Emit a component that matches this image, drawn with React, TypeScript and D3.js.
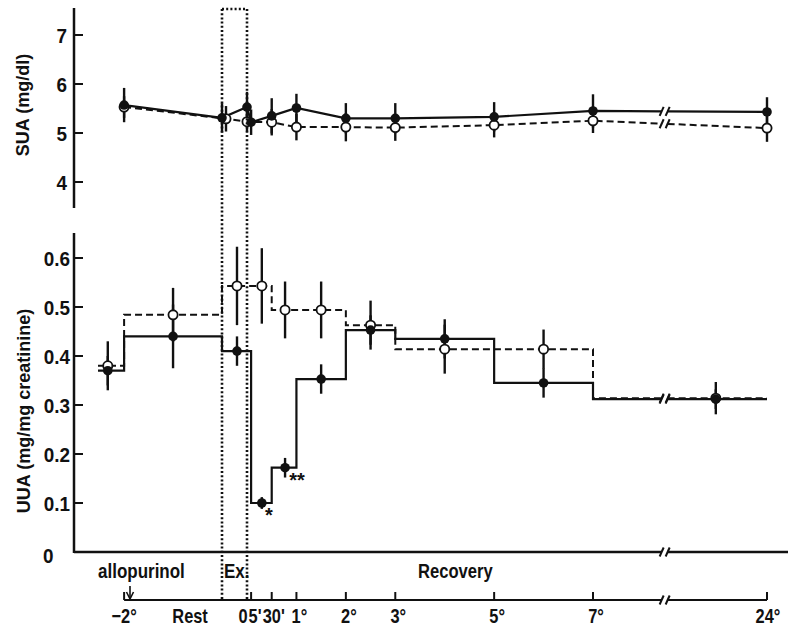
import React from "react";
import * as d3 from "d3";

// ---------- data ----------
// time in hours relative to end of exercise
const suaFilledHours = [-2, -0.5, 0, 0.083, 0.5, 1, 2, 3, 5, 7, 24];
const suaFilled = [5.57, 5.31, 5.53, 5.22, 5.35, 5.51, 5.3, 5.3, 5.33, 5.45, 5.43];
const suaFilledErr = [0.35, 0.3, 0.31, 0.26, 0.36, 0.29, 0.31, 0.31, 0.3, 0.34, 0.3];

const suaOpenHours = [-2, -0.42, 0, 0.5, 1, 2, 3, 5, 7, 24];
const suaOpen = [5.53, 5.29, 5.23, 5.22, 5.12, 5.12, 5.11, 5.16, 5.25, 5.1];
const suaOpenErr = [0.22, 0.26, 0.2, 0.27, 0.27, 0.29, 0.27, 0.25, 0.25, 0.28];

const uuaEdges = [-2.4, -2, -0.5, 0.083, 0.5, 1, 2, 3, 5, 7, 24];
const uuaFilled = [0.37, 0.44, 0.41, 0.1, 0.172, 0.353, 0.453, 0.435, 0.345, 0.312];
const uuaOpen = [0.38, 0.484, 0.543, 0.543, 0.494, 0.494, 0.463, 0.414, 0.414, 0.314];
const uuaPointHours = [-2.25, -1.25, -0.2, 0.3, 0.77, 1.5, 2.5, 4, 6, 19];
const uuaFilledErr = [0.03, 0.065, 0.03, 0.012, 0.02, 0.03, 0.03, 0.04, 0.03, 0.02];
const uuaOpenErr = [0.05, 0.055, 0.08, 0.077, 0.058, 0.058, 0.05, 0.05, 0.04, 0.033];

const suaTicks = [4, 5, 6, 7];
const uuaTicks = [0.1, 0.2, 0.3, 0.4, 0.5, 0.6];
const timeTickHours = [-2, 0.083, 0.5, 1, 2, 3, 5, 7, 24];
const timeLabels = [
  { h: -2, t: "−2°", dx: 0 },
  { h: -1.25, t: "Rest", dx: 17 },
  { h: 0, t: "0", dx: -4 },
  { h: 0.083, t: "5'", dx: 4 },
  { h: 0.5, t: "30'", dx: 2 },
  { h: 1, t: "1°", dx: 3 },
  { h: 2, t: "2°", dx: 3 },
  { h: 3, t: "3°", dx: 3 },
  { h: 5, t: "5°", dx: 3 },
  { h: 7, t: "7°", dx: 3 },
  { h: 24, t: "24°", dx: 1 },
];
const exStart = -0.5;
const exEnd = 0;
const breakHour = 14;

const FONT = "'Liberation Sans', Arial, Helvetica, sans-serif";
const INK = "#111";

type P = [number, number];

function clipPolyline(pts: P[], xmin: number, xmax: number): P[] {
  const out: P[] = [];
  for (let i = 0; i < pts.length; i++) {
    const [x, y] = pts[i];
    if (i > 0) {
      const [px, py] = pts[i - 1];
      for (const edge of [xmin, xmax]) {
        if ((px < edge && x > edge) || (px > edge && x < edge)) {
          const t = (edge - px) / (x - px);
          out.push([edge, py + t * (y - py)]);
        }
      }
    }
    if (x >= xmin - 1e-9 && x <= xmax + 1e-9) out.push([x, y]);
  }
  return out;
}

function yAt(pts: P[], bx: number): number {
  for (let i = 1; i < pts.length; i++) {
    const [px, py] = pts[i - 1];
    const [x, y] = pts[i];
    if (px <= bx && x >= bx && x !== px) return py + ((bx - px) / (x - px)) * (y - py);
  }
  return pts[pts.length - 1][1];
}

function T(props: {
  x: number;
  y: number;
  size: number;
  sx?: number;
  anchor?: "start" | "middle" | "end";
  rotate?: number;
  dy?: string;
  children: React.ReactNode;
}) {
  const { x, y, size, sx = 1, anchor = "start", rotate = 0, dy, children } = props;
  return (
    <text
      transform={`translate(${x},${y}) rotate(${rotate}) scale(${sx},1)`}
      textAnchor={anchor}
      dy={dy}
      fontFamily={FONT}
      fontWeight={700}
      fontSize={size}
      fill={INK}
    >
      {children}
    </text>
  );
}

export default function App() {
  const W = 788;
  const H = 624;
  const x = d3.scaleLinear().domain([-2.4, -0.5, 0, 7, 24]).range([98, 222, 247, 593, 767]);
  const yS = d3.scaleLinear().domain([5, 7]).range([133, 35]);
  const yU = d3.scaleLinear().domain([0, 0.6]).range([552, 258]);
  const axisX = 74;
  const bx = x(breakHour);
  const gap = 3;
  const line = d3.line<P>();

  const broken = (pts: P[], key: string, dash?: string, width = 2.2) => {
    const left = clipPolyline(pts, -1e9, bx - gap);
    const right = clipPolyline(pts, bx + gap, 1e9);
    const yb = yAt(pts, bx);
    return (
      <g key={key}>
        <path d={line(left) || ""} fill="none" stroke={INK} strokeWidth={width} strokeDasharray={dash} />
        <path d={line(right) || ""} fill="none" stroke={INK} strokeWidth={width} strokeDasharray={dash} />
        {[bx - gap, bx + gap].map((sx, i) => (
          <line key={i} x1={sx - 2} y1={yb + 4.5} x2={sx + 2} y2={yb - 4.5} stroke={INK} strokeWidth={2} />
        ))}
      </g>
    );
  };

  const stepPts = (vals: number[], sc: (v: number) => number): P[] => {
    const pts: P[] = [];
    vals.forEach((v, i) => {
      pts.push([x(uuaEdges[i]), sc(v)]);
      pts.push([x(uuaEdges[i + 1]), sc(v)]);
    });
    return pts;
  };

  const suaFilledPts: P[] = suaFilledHours.map((h, i) => [x(h), yS(suaFilled[i])]);
  const suaOpenPts: P[] = suaOpenHours.map((h, i) => [x(h), yS(suaOpen[i])]);

  const errBar = (cx: number, y1: number, y2: number, k: string) => (
    <line key={k} x1={cx} x2={cx} y1={y1} y2={y2} stroke={INK} strokeWidth={2.4} />
  );

  return (
    <svg width={W} height={H} style={{ position: "absolute", left: 0, top: 0, background: "#fff" }}>
      <rect width={W} height={H} fill="#fff" />

      {/* ---------- upper panel: SUA ---------- */}
      <line x1={axisX} x2={axisX} y1={8} y2={208} stroke={INK} strokeWidth={2.5} />
      {suaTicks.map((t) => (
        <g key={t}>
          <line x1={axisX} x2={axisX + 9} y1={yS(t)} y2={yS(t)} stroke={INK} strokeWidth={2} />
          <T x={67} y={yS(t)} dy="0.36em" anchor="end" size={21} sx={0.9}>
            {t}
          </T>
        </g>
      ))}
      <T x={29} y={105} rotate={-90} anchor="middle" size={18}>
        SUA (mg/dl)
      </T>

      {broken(suaOpenPts, "so", "7 4", 2)}
      {broken(suaFilledPts, "sf", undefined, 2.2)}
      {suaFilledHours.map((h, i) =>
        errBar(x(h), yS(suaFilled[i] + suaFilledErr[i]), yS(suaFilled[i] - suaFilledErr[i]), "sfe" + i)
      )}
      {suaOpenHours.map((h, i) =>
        errBar(x(h), yS(suaOpen[i] + suaOpenErr[i]), yS(suaOpen[i] - suaOpenErr[i]), "soe" + i)
      )}
      {suaOpenHours.map((h, i) => (
        <circle key={"soc" + i} cx={x(h)} cy={yS(suaOpen[i])} r={4.6} fill="#fff" stroke={INK} strokeWidth={1.8} />
      ))}
      {suaFilledHours.map((h, i) => (
        <circle key={"sfc" + i} cx={x(h)} cy={yS(suaFilled[i])} r={4.8} fill={INK} />
      ))}

      {/* ---------- lower panel: UUA ---------- */}
      <line x1={axisX} x2={axisX} y1={233} y2={553} stroke={INK} strokeWidth={2.5} />
      {uuaTicks.map((t) => (
        <g key={t}>
          <line x1={axisX} x2={axisX + 9} y1={yU(t)} y2={yU(t)} stroke={INK} strokeWidth={2} />
          <T x={70} y={yU(t)} dy="0.36em" anchor="end" size={21} sx={0.9}>
            {t.toFixed(1)}
          </T>
        </g>
      ))}
      <T x={43} y={yU(0) + 3} dy="0.36em" size={21} sx={0.9}>
        0
      </T>
      <T x={30} y={411} rotate={-90} anchor="middle" size={18}>
        UUA (mg/mg creatinine)
      </T>
      {broken(
        [
          [axisX, yU(0)],
          [788, yU(0)],
        ],
        "xa",
        undefined,
        2.5
      )}

      {broken(stepPts(uuaOpen, yU), "uo", "7 4", 2)}
      {broken(stepPts(uuaFilled, yU), "uf", undefined, 2.2)}
      {uuaPointHours.map((h, i) =>
        errBar(x(h), yU(uuaOpen[i] + uuaOpenErr[i]), yU(uuaOpen[i] - uuaOpenErr[i]), "uoe" + i)
      )}
      {uuaPointHours.map((h, i) =>
        errBar(x(h), yU(uuaFilled[i] + uuaFilledErr[i]), yU(uuaFilled[i] - uuaFilledErr[i]), "ufe" + i)
      )}
      {uuaPointHours.map((h, i) => (
        <circle key={"uoc" + i} cx={x(h)} cy={yU(uuaOpen[i])} r={4.6} fill="#fff" stroke={INK} strokeWidth={1.8} />
      ))}
      {uuaPointHours.map((h, i) => (
        <circle key={"ufc" + i} cx={x(h)} cy={yU(uuaFilled[i])} r={4.8} fill={INK} />
      ))}
      <T x={x(uuaPointHours[3]) + 7} y={yU(uuaFilled[3]) + 19} anchor="middle" size={20}>
        *
      </T>
      <T x={x(uuaPointHours[4]) + 12} y={yU(uuaFilled[4]) + 19} anchor="middle" size={20}>
        **
      </T>

      {/* ---------- exercise box ---------- */}
      <g stroke={INK} strokeWidth={2.6} strokeDasharray="2 2.2" fill="none">
        <line x1={x(exStart)} x2={x(exStart)} y1={9} y2={600} />
        <line x1={x(exEnd)} x2={x(exEnd)} y1={9} y2={600} />
        <line x1={x(exStart)} x2={x(exEnd)} y1={9} y2={9} />
      </g>

      {/* ---------- period labels ---------- */}
      <T x={98} y={578} size={20} sx={0.85}>
        allopurinol
      </T>
      <T x={x(exStart) + 2} y={578} size={20} sx={0.85}>
        Ex.
      </T>
      <T x={418} y={578} size={20} sx={0.83}>
        Recovery
      </T>
      <line x1={130} x2={130} y1={586} y2={598} stroke={INK} strokeWidth={1.6} />
      <path d="M126.5,592 L130,599 L133.5,592" fill="none" stroke={INK} strokeWidth={1.6} />

      {/* ---------- time axis ---------- */}
      {broken(
        [
          [x(-2), 600],
          [x(24), 600],
        ],
        "ta",
        undefined,
        2.2
      )}
      {timeTickHours.map((h) => (
        <line key={"tt" + h} x1={x(h)} x2={x(h)} y1={592} y2={600} stroke={INK} strokeWidth={2} />
      ))}
      {timeLabels.map((d) => (
        <T key={"tl" + d.t} x={x(d.h) + d.dx} y={623} anchor="middle" size={20} sx={0.82}>
          {d.t}
        </T>
      ))}
    </svg>
  );
}
